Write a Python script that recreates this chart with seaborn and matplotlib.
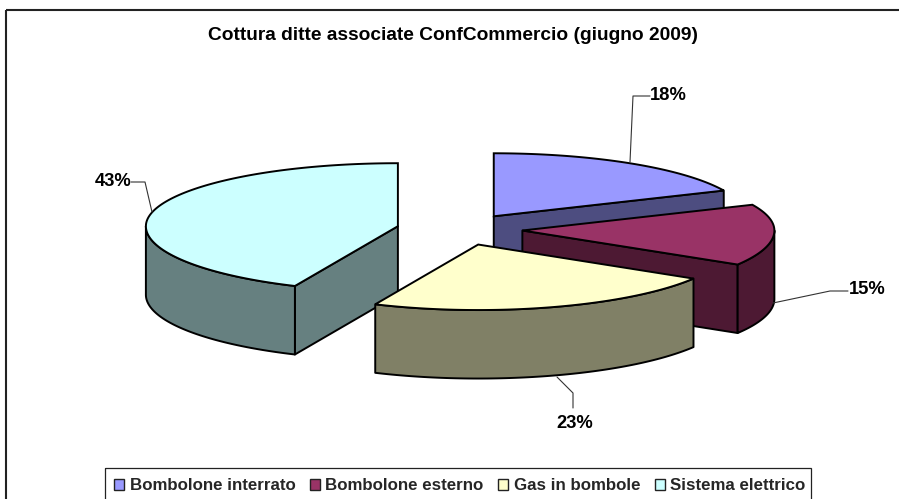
import matplotlib
matplotlib.use("Agg")
import matplotlib.pyplot as plt
import numpy as np
import seaborn as sns
from matplotlib.patches import Patch, Polygon, Rectangle

title = "Cottura ditte associate ConfCommercio (giugno 2009)"
categories = ["Bombolone interrato", "Bombolone esterno", "Gas in bombole", "Sistema elettrico"]
percent = [18.3, 15.4, 23.0, 43.3]
top_colors = ["#9999FF", "#993366", "#FFFFCC", "#CCFFFF"]
side_colors = ["#4D4D80", "#4D1933", "#808066", "#668080"]

# pie geometry, in pixels of the picture
center_x, center_y = 459.5, 229.5
radius_x = 252
radius_back, radius_front = 63, 65.5  # the perspective makes the near half a bit deeper
depth = 68.5
explode = 0.25

# leader lines of the labels
leaders = [
    [(630, 162), (633, 96), (650, 96)],
    [(773, 303), (830, 291), (848, 291)],
    [(557, 377), (573, 393), (573, 408)],
    [(152, 212), (145, 182), (131, 182)],
]
label_pos = [(668.5, 95), (867, 290), (575, 423), (113.5, 181)]

sns.set_theme(style="white")
plt.rcParams["font.family"] = ["Liberation Sans", "DejaVu Sans"]

fig = plt.figure(figsize=(8.99, 4.99), dpi=100)
ax = fig.add_axes([0, 0, 1, 1])
ax.set_xlim(0, 899)
ax.set_ylim(499, 0)
ax.axis("off")

# chart frame runs off the right and bottom of the picture
ax.add_patch(Rectangle((6, 10), 920, 520, fill=False, ec="#222222", lw=1.5))
ax.text(453.5, 35.5, title, ha="center", va="center", fontsize=13.75, fontweight="bold", color="black")


def point(cx, cy, t):
    # t is clockwise from the top
    c = np.cos(t)
    return cx + radius_x * np.sin(t), cy - np.where(c < 0, radius_front, radius_back) * c


share = np.array(percent) / np.sum(percent) * 2 * np.pi
ends = np.cumsum(share)
starts = ends - share
mids = (starts + ends) / 2
apex_x = center_x + explode * radius_x * np.sin(mids)
apex_y = center_y - explode * radius_back * np.cos(mids)

# back slices first
for i in np.argsort(apex_y):
    cx, cy = apex_x[i], apex_y[i]
    a0, a1 = starts[i], ends[i]
    side = dict(fc=side_colors[i], ec="black", lw=1.4, joinstyle="round")

    # cut faces, only those turned to the viewer
    for t, sign in ((a0, -1), (a1, 1)):
        if sign * np.sin(t) > 1e-6:
            x, y = point(cx, cy, t)
            ax.add_patch(Polygon([(cx, cy), (x, y), (x, y + depth), (cx, cy + depth)], **side))

    # rim, only the front half
    r0, r1 = max(a0, np.pi / 2), min(a1, 3 * np.pi / 2)
    if r1 > r0:
        ts = np.linspace(r0, r1, 80)
        x, y = point(cx, cy, ts)
        rim = np.r_[np.c_[x, y], np.c_[x[::-1], y[::-1] + depth]]
        ax.add_patch(Polygon(rim, **side))

    ts = np.linspace(a0, a1, 120)
    x, y = point(cx, cy, ts)
    ax.add_patch(Polygon(np.r_[[(cx, cy)], np.c_[x, y]], fc=top_colors[i], ec="black", lw=1.4))

for pts, pos, p in zip(leaders, label_pos, percent):
    ax.plot(*zip(*pts), color="#333333", lw=0.8)
    ax.text(pos[0], pos[1], f"{p:.0f}%", ha="center", va="center", fontsize=13.2, fontweight="bold", color="black")

# legend box is cut by the bottom edge too
ax.add_patch(Rectangle((105, 468), 705.5, 40, fill=False, ec="#222222", lw=0.9))
handles = [Patch(fc=c, ec="#222222", lw=1) for c in top_colors]
ax.legend(
    handles, categories, loc="upper left", bbox_to_anchor=(105 / 899, 1 - 469 / 499), ncol=4,
    frameon=False, prop=dict(weight="bold", size=12.2), handlelength=0.6, handleheight=0.6,
    handletextpad=0.3, columnspacing=0.87, borderaxespad=0, borderpad=0.55,
)

fig.savefig("out.png", dpi=100, facecolor="white")
